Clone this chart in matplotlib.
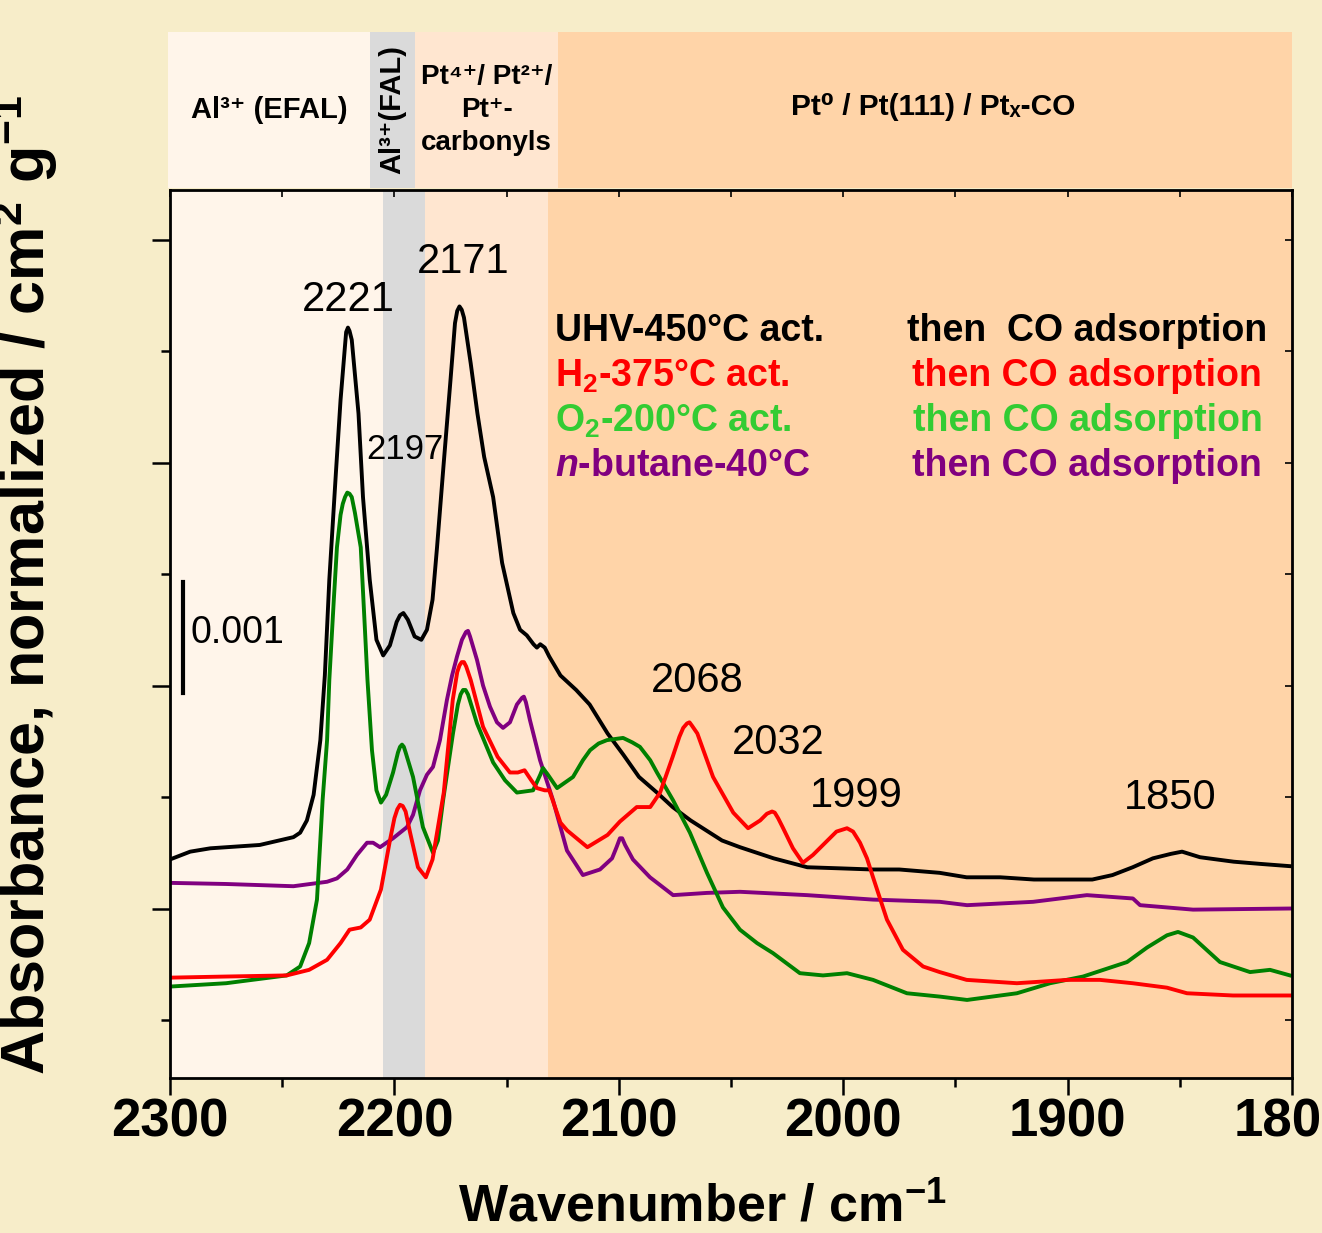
import numpy as np
import matplotlib.pyplot as plt

plt.rcParams['font.family'] = ['Liberation Sans', 'DejaVu Sans']
plt.rcParams['mathtext.fontset'] = 'custom'
plt.rcParams['mathtext.rm'] = 'Liberation Sans'
plt.rcParams['mathtext.bf'] = 'Liberation Sans:bold'
plt.rcParams['mathtext.it'] = 'Liberation Sans:italic:bold'

# spectra: wavenumber (cm-1) and absorbance in units of 0.001, offset for stacking
uhv_wn = [2300, 2291, 2282, 2260, 2245, 2242, 2239, 2236, 2233, 2231, 2229, 2226, 2224, 2222, 2221.5,
          2220.7, 2220, 2219, 2216, 2214, 2211, 2208, 2205, 2202, 2199, 2197.5, 2196, 2194, 2191, 2188,
          2185.5, 2183, 2181, 2178, 2175, 2173, 2172, 2171, 2170, 2169, 2166, 2163, 2160, 2156, 2152,
          2147, 2144, 2141, 2138, 2136.5, 2135, 2133, 2131, 2126, 2119, 2113, 2105, 2098, 2091, 2083,
          2076, 2068, 2061, 2054, 2046, 2031, 2016, 2001, 1987, 1975, 1957, 1945, 1930, 1915, 1900,
          1889, 1880, 1871, 1862, 1854, 1849, 1841, 1826, 1814, 1801]
uhv_abs = [2.44, 2.51, 2.54, 2.57, 2.64, 2.68, 2.79, 3.02, 3.51, 4.09, 4.95, 5.93, 6.56, 7.05, 7.17,
           7.21, 7.18, 7.10, 6.44, 5.69, 4.95, 4.41, 4.27, 4.36, 4.57, 4.63, 4.65, 4.59, 4.44, 4.41,
           4.50, 4.77, 5.24, 6.00, 6.74, 7.25, 7.36, 7.40, 7.37, 7.30, 6.89, 6.44, 6.05, 5.69, 5.10,
           4.65, 4.50, 4.45, 4.37, 4.34, 4.37, 4.34, 4.26, 4.09, 3.96, 3.83, 3.57, 3.38, 3.18, 3.04,
           2.91, 2.79, 2.70, 2.61, 2.55, 2.45, 2.37, 2.36, 2.35, 2.35, 2.32, 2.28, 2.28, 2.26, 2.26,
           2.26, 2.30, 2.37, 2.45, 2.49, 2.51, 2.46, 2.42, 2.40, 2.38]

h2_wn = [2300, 2275, 2248, 2238, 2230, 2224, 2220, 2215, 2211, 2206, 2202, 2200, 2198.7, 2197.5, 2196.3,
         2195, 2193, 2189.5, 2186, 2183, 2178, 2174, 2172, 2171, 2170, 2169, 2168, 2166, 2160.5, 2154,
         2148.5, 2145, 2142, 2139, 2136.5, 2133, 2131, 2126, 2123, 2114, 2105, 2099.5, 2092, 2086,
         2081.6, 2076, 2073, 2071.3, 2069.6, 2068.5, 2067.4, 2065, 2061.6, 2058, 2049, 2042.4, 2037,
         2034, 2031.7, 2030.5, 2029, 2027, 2022.4, 2018, 2013.5, 2009, 2003, 1998.3, 1995.6, 1992.5,
         1989.4, 1986.7, 1980.5, 1973.4, 1964.4, 1957, 1945, 1922.6, 1900, 1885.6, 1871, 1855.7,
         1846.8, 1826.3, 1801]
h2_abs = [1.38, 1.39, 1.40, 1.45, 1.54, 1.69, 1.81, 1.83, 1.90, 2.17, 2.61, 2.81, 2.89, 2.93, 2.92,
          2.87, 2.68, 2.37, 2.28, 2.44, 3.04, 3.87, 4.12, 4.18, 4.21, 4.21, 4.17, 4.05, 3.63, 3.36,
          3.22, 3.22, 3.24, 3.15, 3.08, 3.06, 3.06, 2.77, 2.70, 2.55, 2.66, 2.78, 2.91, 2.91,
          3.04, 3.36, 3.54, 3.62, 3.66, 3.67, 3.64, 3.57, 3.38, 3.18, 2.86, 2.72, 2.79,
          2.85, 2.87, 2.86, 2.81, 2.73, 2.54, 2.41, 2.48, 2.57, 2.69, 2.72, 2.69, 2.59,
          2.45, 2.28, 1.90, 1.63, 1.48, 1.43, 1.36, 1.33, 1.36, 1.36, 1.33, 1.29,
          1.24, 1.22, 1.22]

o2_wn = [2300, 2275, 2248, 2242, 2238, 2234.5, 2232, 2230, 2229, 2227, 2225.6, 2224, 2223, 2222, 2221,
         2220, 2219, 2217.6, 2215, 2213.5, 2212, 2210, 2208, 2206, 2203.7, 2200.6, 2198.4, 2197.5,
         2196.6, 2195.8, 2195, 2191.7, 2187.3, 2182.8, 2180.6, 2178.3, 2173.9, 2171.7, 2170.5, 2169.4,
         2168.3, 2167.2, 2163.2, 2156, 2150.7, 2145.4, 2138.2, 2135, 2133.8, 2131.6, 2127.5, 2120.4,
         2116, 2112.8, 2109, 2105.3, 2098.1, 2094, 2090.6, 2086, 2083, 2075.8, 2068.3, 2060.7, 2053.6,
         2046, 2038.4, 2031.3, 2019.3, 2009, 1998.3, 1986.7, 1971.6, 1956.9, 1944.8, 1922.6, 1907.8,
         1893.1, 1873.5, 1864.6, 1855.7, 1850.8, 1844.1, 1832.1, 1818.7, 1809.8, 1800.9]
o2_abs = [1.30, 1.33, 1.40, 1.48, 1.69, 2.08, 2.97, 3.51, 4.05, 4.77, 5.24, 5.53, 5.63, 5.69, 5.73,
          5.72, 5.69, 5.55, 5.24, 4.65, 4.05, 3.42, 3.06, 2.95, 3.02, 3.22, 3.40, 3.45,
          3.47, 3.45, 3.40, 3.18, 2.73, 2.50, 2.61, 2.97, 3.57, 3.83, 3.92, 3.96,
          3.96, 3.92, 3.66, 3.31, 3.15, 3.04, 3.06, 3.20, 3.26, 3.20, 3.08, 3.18,
          3.33, 3.42, 3.48, 3.51, 3.53, 3.49, 3.45, 3.33, 3.22, 2.97, 2.68, 2.32, 2.01,
          1.81, 1.69, 1.60, 1.42, 1.40, 1.42, 1.36, 1.24, 1.21, 1.18, 1.24, 1.33,
          1.39, 1.52, 1.65, 1.76, 1.79, 1.74, 1.52, 1.43, 1.45, 1.40]

nbut_wn = [2300, 2275, 2245, 2230, 2225.6, 2221, 2216.7, 2212.2, 2209.5, 2206.4, 2200.6, 2194.4,
           2191.7, 2188.6, 2185.5, 2182.8, 2179.7, 2176.6, 2174.3, 2172.1, 2169.9, 2168.1, 2167.2,
           2166.3, 2163.2, 2160.5, 2157.4, 2154.3, 2151.6, 2148.5, 2145.4, 2143.1, 2142.3, 2141.4,
           2139.6, 2135.1, 2129.3, 2123.1, 2116, 2108.4, 2103, 2101, 2099.5, 2098.5, 2097.2, 2093.7,
           2086.1, 2075.8, 2060.7, 2046, 2016.1, 1986.7, 1956.9, 1944.8, 1915.4, 1891.4, 1870.9,
           1867.7, 1844.1, 1800.9]
nbut_abs = [2.23, 2.22, 2.20, 2.24, 2.27, 2.35, 2.48, 2.59, 2.59, 2.55, 2.63, 2.73,
            2.84, 3.06, 3.20, 3.27, 3.51, 3.87, 4.09, 4.26, 4.41, 4.48, 4.49,
            4.44, 4.23, 4.00, 3.81, 3.67, 3.62, 3.67, 3.83, 3.89, 3.90, 3.85,
            3.69, 3.33, 2.97, 2.52, 2.30, 2.35, 2.45, 2.55, 2.63, 2.63, 2.57, 2.44,
            2.28, 2.12, 2.14, 2.15, 2.12, 2.08, 2.06, 2.03, 2.06, 2.12, 2.09,
            2.03, 1.99, 2.00]

# assignment regions (cm-1)
span_edges = [2300, 2205, 2186.4, 2131.6, 1800]
span_colors = ['#fff5ea', '#dadada', '#ffe6d0', '#ffd4a8']
band_edges = [2301, 2211, 2191, 2127, 1800]

peak_labels = ['2221', '2171', '2197', '2068', '2032', '1999', '1850']
peak_x = [2220.7, 2169.4, 2195.3, 2065.2, 2029.1, 1994.3, 1854.4]
peak_y = [7.46, 7.80, 6.12, 4.04, 3.48, 3.01, 2.99]
peak_size = [30, 30, 25, 30, 30, 30, 30]

fig = plt.figure(figsize=(13.22, 12.33), dpi=100, facecolor='#f7edc9')

# header band with the assignments
band = fig.add_axes([168 / 1322, 1 - 188 / 1233, 1124 / 1322, 156 / 1233])
band.set_xlim(2301, 1800)
band.set_ylim(0, 1)
for lo, hi, c in zip(band_edges[:-1], band_edges[1:], span_colors):
    band.axvspan(lo, hi, color=c, lw=0)
band.axis('off')
band.text(2256, 0.5, 'Al³⁺ (EFAL)', fontsize=21, fontweight='bold', ha='center', va='center')
band.text(2201, 0.5, 'Al³⁺(FAL)', fontsize=21, fontweight='bold', ha='center', va='center',
          rotation=90)
band.text(2159, 0.5, 'Pt⁴⁺/ Pt²⁺/\nPt⁺-\ncarbonyls', fontsize=20, fontweight='bold',
          ha='center', va='center', linespacing=1.35)
band.text(1960, 0.52, 'Pt⁰ / Pt(111) / Ptₓ-CO', fontsize=21.5, fontweight='bold',
          ha='center', va='center')

ax = fig.add_axes([170 / 1322, 1 - 1078 / 1233, 1122 / 1322, 888 / 1233])
for lo, hi, c in zip(span_edges[:-1], span_edges[1:], span_colors):
    ax.axvspan(lo, hi, color=c, lw=0, zorder=0)

ax.plot(uhv_wn, uhv_abs, color='black', lw=2.8, solid_joinstyle='round')
ax.plot(nbut_wn, nbut_abs, color='#800080', lw=2.8, solid_joinstyle='round')
ax.plot(o2_wn, o2_abs, color='#008000', lw=2.8, solid_joinstyle='round')
ax.plot(h2_wn, h2_abs, color='#ff0000', lw=2.8, solid_joinstyle='round')

ax.set_xlim(2300, 1800)
ax.set_ylim(0.48, 8.444)

ax.set_xticks([2300, 2200, 2100, 2000, 1900, 1800])
ax.set_xticks(np.arange(1850, 2300, 100), minor=True)
ax.set_yticks([2, 4, 6, 8])
ax.set_yticks([1, 3, 5, 7], minor=True)
ax.set_yticklabels([])
ax.tick_params(axis='x', which='major', length=12, width=1.8, pad=2, labelsize=38)
ax.tick_params(axis='x', which='minor', length=6.5, width=1.8)
ax.tick_params(axis='y', which='major', length=13, width=1.8)
ax.tick_params(axis='y', which='minor', length=6.5, width=1.8)
for lbl in ax.get_xticklabels():
    lbl.set_fontweight('bold')
for s in ax.spines.values():
    s.set_linewidth(2)

top = ax.secondary_xaxis('top')
top.set_xticks(np.arange(1800, 2301, 50))
top.tick_params(direction='in', length=5, width=1.2)
top.set_xticklabels([])
right = ax.secondary_yaxis('right')
right.set_yticks([1, 2, 3, 4, 5, 6, 7, 8])
right.tick_params(direction='in', length=5, width=1.2)
right.set_yticklabels([])

# peak positions
for lab, x, y, fs in zip(peak_labels, peak_x, peak_y, peak_size):
    ax.text(x, y, lab, fontsize=fs, ha='center', va='center')

# scale bar
ax.plot([2294.2, 2294.2], [3.93, 4.93], color='black', lw=3)
ax.text(2291, 4.47, '0.001', fontsize=27, ha='left', va='center')

# activation conditions
legend_left = ['UHV-450°C act.', r'H$_{\mathbf{2}}$-375°C act.', r'O$_{\mathbf{2}}$-200°C act.',
               r'$\mathit{n}$-butane-40°C']
legend_right = ['then  CO adsorption', 'then CO adsorption', 'then CO adsorption',
                'then CO adsorption']
legend_colors = ['black', '#ff0000', '#33cc33', '#800080']
legend_x2 = [0.657, 0.661, 0.662, 0.661]
legend_y = [0.841, 0.7905, 0.740, 0.689]
for l, r, c, x2, y in zip(legend_left, legend_right, legend_colors, legend_x2, legend_y):
    ax.text(0.343, y, l, color=c, fontsize=27, fontweight='bold', ha='left', va='center',
            transform=ax.transAxes)
    ax.text(x2, y, r, color=c, fontsize=27, fontweight='bold', ha='left', va='center',
            transform=ax.transAxes)

fig.text(703 / 1322, 1 - 1208 / 1233, r'Wavenumber / cm$^{\mathbf{-1}}$', fontsize=37.5,
         fontweight='bold', ha='center', va='center')
fig.text(25 / 1322, 1 - 1075 / 1233, r'Absorbance, normalized / cm$^{\mathbf{2}}$ g$^{\mathbf{-1}}$',
         fontsize=44, fontweight='bold', ha='center', va='bottom', rotation=90)

fig.savefig('out.png', dpi=100, facecolor=fig.get_facecolor())
